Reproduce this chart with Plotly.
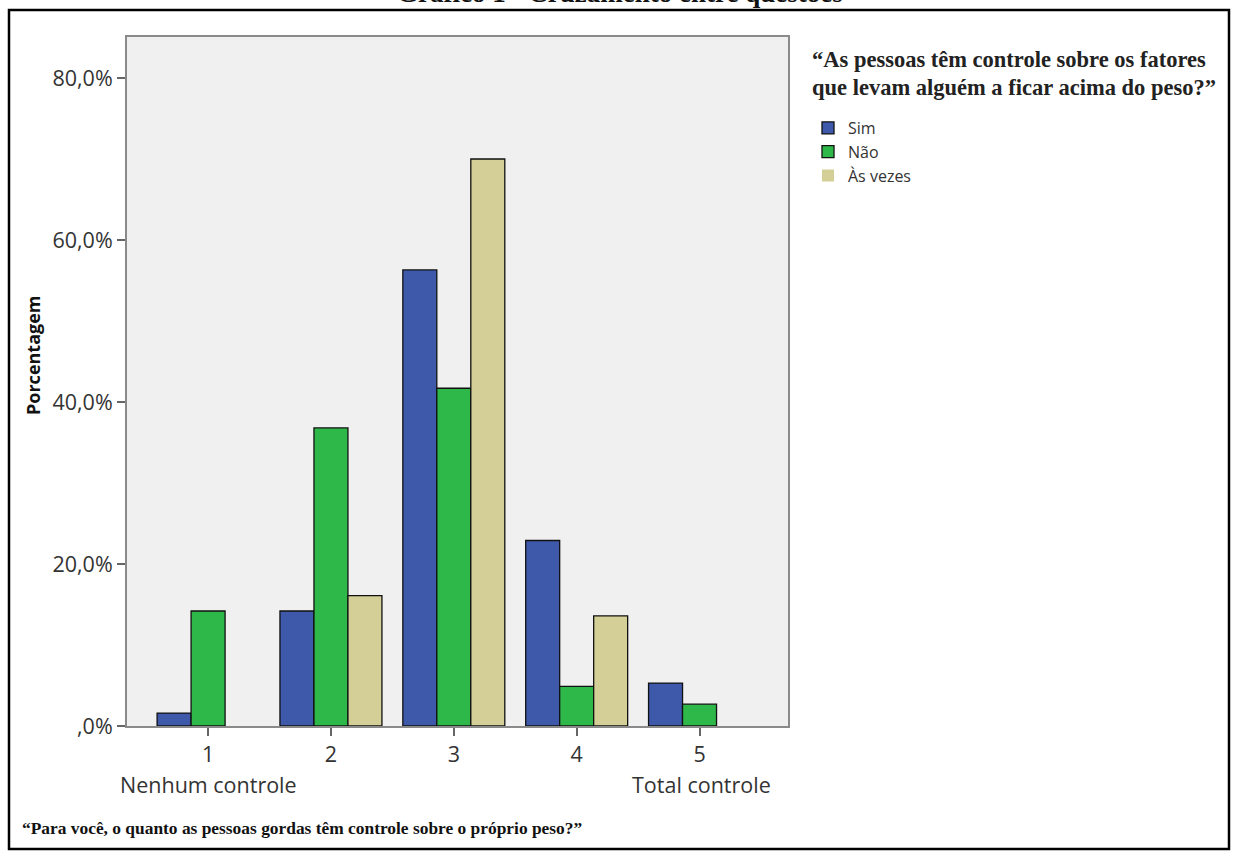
import plotly.graph_objects as go

categories = [1, 2, 3, 4, 5]
series_names = ["Sim", "Não", "Às vezes"]
sim = [1.6, 14.2, 56.3, 22.9, 5.3]
nao = [14.2, 36.8, 41.7, 4.9, 2.7]
as_vezes = [0.0, 16.1, 70.0, 13.6, 0.0]
colors = ["#3e58aa", "#2fb84a", "#d4cf96"]
y_tickvals = [0, 20, 40, 60, 80]
y_ticktext = [",0%", "20,0%", "40,0%", "60,0%", "80,0%"]

W, H = 1238, 859
# plot area in page pixels
L, R, T, B = 127, 788, 37, 726


def px2x(p):
    return (p - L) / (R - L)


def px2y(p):
    return (B - p) / (B - T)


fig = go.Figure()
for name, vals, col in zip(series_names, [sim, nao, as_vezes], colors):
    fig.add_trace(go.Bar(
        x=categories, y=vals, name=name,
        marker=dict(color=col,
                    line=dict(color="#111111", width=[1.3 if v > 0 else 0 for v in vals])),
    ))

sans = "Open Sans, DejaVu Sans, sans-serif"
serif = "Liberation Serif, Times New Roman, serif"
tick_font = dict(family=sans, size=21.5, color="#333333")

fig.update_layout(
    width=W, height=H,
    margin=dict(l=L, r=W - R, t=T, b=H - B, autoexpand=False),
    paper_bgcolor="white",
    plot_bgcolor="#f0f0f0",
    barmode="group",
    bargap=0.17,
    bargroupgap=0,
    showlegend=True,
    legend=dict(
        x=px2x(808), y=px2y(111), xanchor="left", yanchor="top",
        xref="paper", yref="paper",
        font=dict(family=sans, size=16, color="#333333"),
        bgcolor="rgba(0,0,0,0)",
        itemwidth=30,
        tracegroupgap=0,
    ),
    xaxis=dict(
        range=[0.34, 5.72],
        tickvals=categories,
        ticktext=[str(c) for c in categories],
        ticks="outside", ticklen=8, tickcolor="#666666", tickwidth=1.5,
        showline=True, linecolor="#8a8a8a", linewidth=2, mirror=True,
        showgrid=False, zeroline=False,
        tickfont=tick_font,
    ),
    yaxis=dict(
        range=[0, (B - T) / 8.1],
        tickvals=y_tickvals, ticktext=y_ticktext,
        ticks="outside", ticklen=8, tickcolor="#666666", tickwidth=1.5,
        showline=True, linecolor="#8a8a8a", linewidth=2, mirror=True,
        showgrid=False, zeroline=False,
        tickfont=tick_font,
    ),
    shapes=[dict(
        type="rect", xref="paper", yref="paper",
        x0=px2x(9), x1=px2x(1229), y0=px2y(849), y1=px2y(10),
        line=dict(color="black", width=2.5), fillcolor="rgba(0,0,0,0)", layer="below",
    )],
    annotations=[
        dict(text="<b>Gráfico 1 - Cruzamento entre questões</b>", xref="paper", yref="paper",
             x=px2x(620), y=px2y(-7), xanchor="center", yanchor="middle", showarrow=False,
             font=dict(family=serif, size=27, color="#111111")),
        dict(text="<b>Porcentagem</b>", xref="paper", yref="paper", textangle=-90,
             x=px2x(33), y=px2y(355), xanchor="center", yanchor="middle", showarrow=False,
             font=dict(family=sans, size=18, color="#111111")),
        dict(text="Nenhum controle", xref="paper", yref="paper",
             x=px2x(208), y=px2y(784), xanchor="center", yanchor="middle", showarrow=False,
             font=tick_font),
        dict(text="Total controle", xref="paper", yref="paper",
             x=px2x(701), y=px2y(784), xanchor="center", yanchor="middle", showarrow=False,
             font=tick_font),
        dict(text="<b>“Para você, o quanto as pessoas gordas têm controle sobre o próprio peso?”</b>",
             xref="paper", yref="paper",
             x=px2x(20), y=px2y(828), xanchor="left", yanchor="middle", showarrow=False,
             font=dict(family=serif, size=17.4, color="#111111")),
        dict(text="<b>“As pessoas têm controle sobre os fatores</b>",
             xref="paper", yref="paper",
             x=px2x(810), y=px2y(59), xanchor="left", yanchor="middle", showarrow=False,
             font=dict(family=serif, size=22.5, color="#222222")),
        dict(text="<b>que levam alguém a ficar acima do peso?”</b>",
             xref="paper", yref="paper",
             x=px2x(810), y=px2y(87), xanchor="left", yanchor="middle", showarrow=False,
             font=dict(family=serif, size=22.5, color="#222222")),
    ],
)

fig.write_html(
    "out.html",
    config={"displayModeBar": False},
    post_script="document.body.style.margin='0px';document.body.style.overflow='hidden';",
)
